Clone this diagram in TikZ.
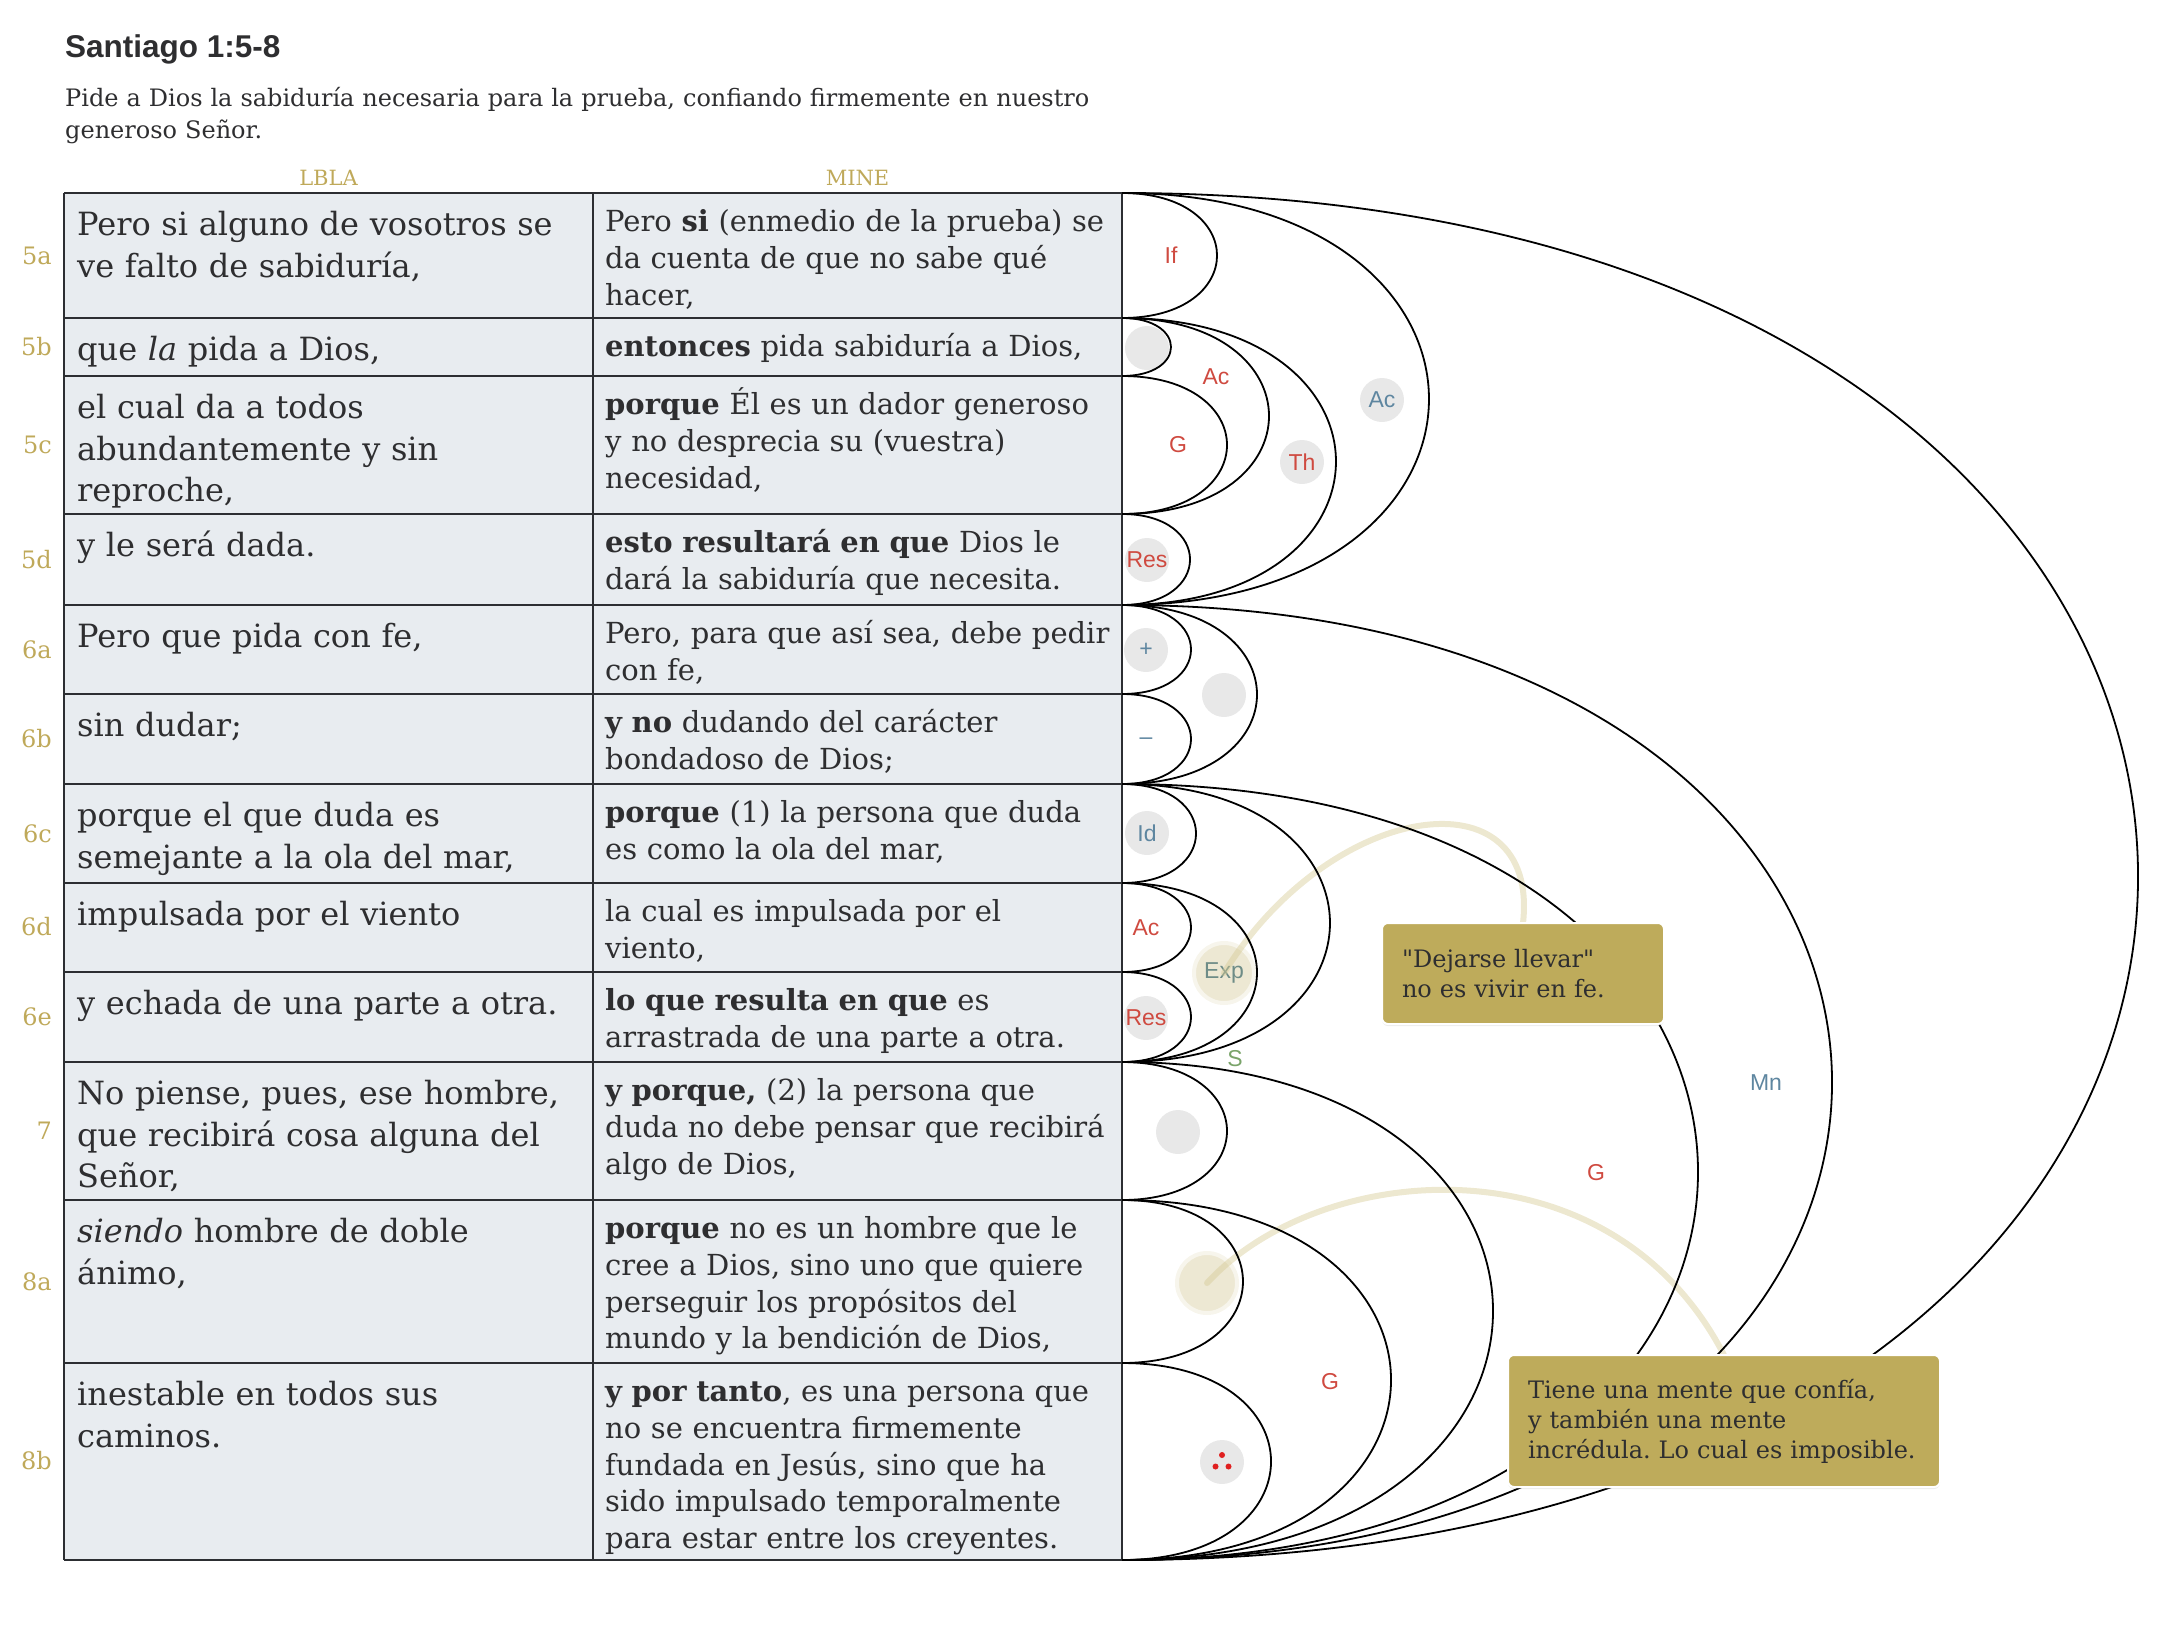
\documentclass[tikz,border=0pt]{standalone}
\usepackage{fontspec}
\setmainfont{DejaVu Serif}
\newfontfamily\etiqfont{Liberation Sans}
\newfontfamily\rectafont{DejaVu Serif}[Ligatures=TeXOff]
\usetikzlibrary{shadows}

\definecolor{oro}{RGB}{191,169,90}
\definecolor{notaoro}{RGB}{190,171,91}
\definecolor{tinta}{RGB}{46,46,48}
\definecolor{celda}{RGB}{232,236,240}
\definecolor{regla}{RGB}{44,46,50}
\definecolor{rojo}{RGB}{207,74,64}
\definecolor{azul}{RGB}{94,134,160}
\definecolor{verde}{RGB}{122,164,106}
\definecolor{gris}{RGB}{232,232,232}
\definecolor{crema}{RGB}{237,232,211}
\definecolor{cremaclaro}{RGB}{247,245,236}
\definecolor{trazo}{RGB}{214,203,150}
\definecolor{expgris}{RGB}{110,140,135}
\definecolor{punto}{RGB}{224,32,32}

\tikzset{
  regla/.style={draw=regla, line width=2.2pt},
  arco/.style={draw=black, line width=1.8pt},
  verso/.style={anchor=east, text=oro, inner sep=0pt, font={\fontsize{24}{28}\selectfont}},
  lbla/.style={anchor=base west, text=tinta, inner sep=0pt, text width=600pt, align=left, font={\fontsize{32}{41.5}\selectfont}},
  mine/.style={anchor=base west, text=tinta, inner sep=0pt, text width=600pt, align=left, font={\fontsize{29}{36.8}\selectfont}},
  lbl/.style={text=#1, inner sep=0pt, font={\etiqfont\fontsize{23}{23}\selectfont}},
  burbuja/.style={circle, fill=gris, minimum size=44pt, inner sep=0pt},
  brillo/.style={circle, fill=crema, draw=cremaclaro, line width=4pt, minimum size=60pt, inner sep=0pt},
  resalte/.style={draw=trazo, draw opacity=0.45, line width=6pt, line cap=round},
  nota/.style={rectangle, rounded corners=6pt, fill=notaoro, draw=white, line width=2pt, text=tinta,
    align=left, inner xsep=20pt, inner ysep=0pt, font={\rectafont\fontsize{24}{30}\selectfont},
    drop shadow={shadow xshift=0pt, shadow yshift=-2pt, opacity=0.15}}
}

\begin{document}
\frenchspacing
\begin{tikzpicture}[x=1pt, y=-1pt]
	\useasboundingbox (0,0) rectangle (2176,1642);
	% encabezado
	\node[anchor=base west, inner sep=0pt, text=tinta, font={\etiqfont\bfseries\fontsize{31.5}{36}\selectfont}] (titulo) at (65,57.5) {Santiago 1:5-8};
	\node[anchor=base west, inner sep=0pt, text=tinta, text width=1200pt, align=left, font={\fontsize{24}{32}\selectfont}] (resumen) at (65,106) {Pide a Dios la sabiduría necesaria para la prueba, confiando firmemente en nuestro\\generoso Señor.};
	\node[anchor=base, inner sep=0pt, text=oro, font={\fontsize{21}{24}\selectfont}] (hlbla) at (328.5,185) {LBLA};
	\node[anchor=base, inner sep=0pt, text=oro, font={\fontsize{21}{24}\selectfont}] (hmine) at (857.5,185) {MINE};

	% bordes de las filas
	\coordinate (a0) at (64,193);    \coordinate (b0) at (1122,193);
	\coordinate (a1) at (64,318);    \coordinate (b1) at (1122,318);
	\coordinate (a2) at (64,376);    \coordinate (b2) at (1122,376);
	\coordinate (a3) at (64,514);    \coordinate (b3) at (1122,514);
	\coordinate (a4) at (64,605);    \coordinate (b4) at (1122,605);
	\coordinate (a5) at (64,694);    \coordinate (b5) at (1122,694);
	\coordinate (a6) at (64,784);    \coordinate (b6) at (1122,784);
	\coordinate (a7) at (64,883);    \coordinate (b7) at (1122,883);
	\coordinate (a8) at (64,972);    \coordinate (b8) at (1122,972);
	\coordinate (a9) at (64,1062);   \coordinate (b9) at (1122,1062);
	\coordinate (a10) at (64,1200);  \coordinate (b10) at (1122,1200);
	\coordinate (a11) at (64,1363);  \coordinate (b11) at (1122,1363);
	\coordinate (a12) at (64,1560);  \coordinate (b12) at (1122,1560);

	\fill[celda] (a0) rectangle (b12);
	\draw[regla] (a0) -- (b0);
	\draw[regla] (a1) -- (b1);
	\draw[regla] (a2) -- (b2);
	\draw[regla] (a3) -- (b3);
	\draw[regla] (a4) -- (b4);
	\draw[regla] (a5) -- (b5);
	\draw[regla] (a6) -- (b6);
	\draw[regla] (a7) -- (b7);
	\draw[regla] (a8) -- (b8);
	\draw[regla] (a9) -- (b9);
	\draw[regla] (a10) -- (b10);
	\draw[regla] (a11) -- (b11);
	\draw[regla] (a12) -- (b12);
	\draw[regla] (a0) -- (a12);
	\draw[regla] (593,193) -- (593,1560);
	\draw[regla] (b0) -- (b12);

	% versículos
	\node[verso] (v5a) at (52,256) {5a};
	\node[verso] (v5b) at (52,347) {5b};
	\node[verso] (v5c) at (52,445) {5c};
	\node[verso] (v5d) at (52,560) {5d};
	\node[verso] (v6a) at (52,650) {6a};
	\node[verso] (v6b) at (52,739) {6b};
	\node[verso] (v6c) at (52,834) {6c};
	\node[verso] (v6d) at (52,927) {6d};
	\node[verso] (v6e) at (52,1017) {6e};
	\node[verso] (v7) at (52,1131) {7};
	\node[verso] (v8a) at (52,1282) {8a};
	\node[verso] (v8b) at (52,1461) {8b};

	% LBLA
	\node[lbla] (l5a) at (77,235.5) {Pero si alguno de vosotros se\\ve falto de sabiduría,};
	\node[lbla] (l5b) at (77,360.5) {que \textit{la} pida a Dios,};
	\node[lbla] (l5c) at (77,418.5) {el cual da a todos\\abundantemente y sin\\reproche,};
	\node[lbla] (l5d) at (77,556.5) {y le será dada.};
	\node[lbla] (l6a) at (77,647.5) {Pero que pida con fe,};
	\node[lbla] (l6b) at (77,736.5) {sin dudar;};
	\node[lbla] (l6c) at (77,826.5) {porque el que duda es\\semejante a la ola del mar,};
	\node[lbla] (l6d) at (77,925.5) {impulsada por el viento};
	\node[lbla] (l6e) at (77,1014.5) {y echada de una parte a otra.};
	\node[lbla] (l7) at (77,1104.5) {No piense, pues, ese hombre,\\que recibirá cosa alguna del\\Señor,};
	\node[lbla] (l8a) at (77,1242.5) {\textit{siendo} hombre de doble\\ánimo,};
	\node[lbla] (l8b) at (77,1405.5) {inestable en todos sus\\caminos.};

	% MINE
	\node[mine] (m5a) at (605,231.5) {Pero \textbf{si} (enmedio de la prueba) se\\da cuenta de que no sabe qué\\hacer,};
	\node[mine] (m5b) at (605,356.5) {\textbf{entonces} pida sabiduría a Dios,};
	\node[mine] (m5c) at (605,414.5) {\textbf{porque} Él es un dador generoso\\y no desprecia su (vuestra)\\necesidad,};
	\node[mine] (m5d) at (605,552.5) {\textbf{esto resultará en que} Dios le\\dará la sabiduría que necesita.};
	\node[mine] (m6a) at (605,643.5) {Pero, para que así sea, debe pedir\\con fe,};
	\node[mine] (m6b) at (605,732.5) {\textbf{y no} dudando del carácter\\bondadoso de Dios;};
	\node[mine] (m6c) at (605,822.5) {\textbf{porque} (1) la persona que duda\\es como la ola del mar,};
	\node[mine] (m6d) at (605,921.5) {la cual es impulsada por el\\viento,};
	\node[mine] (m6e) at (605,1010.5) {\textbf{lo que resulta en que} es\\arrastrada de una parte a otra.};
	\node[mine] (m7) at (605,1100.5) {\textbf{y porque,} (2) la persona que\\duda no debe pensar que recibirá\\algo de Dios,};
	\node[mine] (m8a) at (605,1238.5) {\textbf{porque} no es un hombre que le\\cree a Dios, sino uno que quiere\\perseguir los propósitos del\\mundo y la bendición de Dios,};
	\node[mine] (m8b) at (605,1401.5) {\textbf{y por tanto}, es una persona que\\no se encuentra firmemente\\fundada en Jesús, sino que ha\\sido impulsado temporalmente\\para estar entre los creyentes.};

	% burbujas de las relaciones
	\node[burbuja] (c5b) at (1147,348) {};
	\node[burbuja, lbl=rojo] (th) at (1302,462) {Th};
	\node[burbuja, lbl=azul] (ac5) at (1382,400) {Ac};
	\node[burbuja, lbl=rojo] (res5) at (1147,560) {Res};
	\node[burbuja, lbl=azul] (mas) at (1146,650) {+};
	\node[burbuja] (c6ab) at (1224,695) {};
	\node[burbuja, lbl=azul] (id) at (1147,833) {Id};
	\node[burbuja, lbl=rojo] (res6) at (1146,1018) {Res};
	\node[brillo, lbl=expgris] (exp) at (1224,973) {Exp};
	\node[burbuja] (c7) at (1178,1132) {};
	\node[brillo] (c8a) at (1207,1283) {};
	\node[burbuja] (puntos) at (1222,1462) {};
	\fill[punto] (puntos) ++(0,-7) circle (3);
	\fill[punto] (puntos) ++(-6.5,4.5) circle (3);
	\fill[punto] (puntos) ++(6.5,4.5) circle (3);

	% trazos hacia las notas
	\coordinate (notaAarriba) at (1523,923);
	\coordinate (notaBarriba) at (1724,1355);
	\draw[resalte] (exp.center) .. controls (1330,800) and (1540,770) .. (notaAarriba);
	\draw[resalte] (c8a.center) .. controls (1320,1160) and (1610,1135) .. (notaBarriba);

	% arcos
	\draw[arco] (b0) .. controls +(126.7,0) and +(126.7,0) .. (b1);
	\draw[arco] (b1) .. controls +(65.3,0) and +(65.3,0) .. (b2);
	\draw[arco] (b2) .. controls +(140,0) and +(140,0) .. (b3);
	\draw[arco] (b1) .. controls +(196,0) and +(196,0) .. (b3);
	\draw[arco] (b3) .. controls +(90.7,0) and +(90.7,0) .. (b4);
	\draw[arco] (b1) .. controls +(285.3,0) and +(285.3,0) .. (b4);
	\draw[arco] (b0) .. controls +(409.3,0) and +(409.3,0) .. (b4);
	\draw[arco] (b4) .. controls +(92,0) and +(92,0) .. (b5);
	\draw[arco] (b5) .. controls +(92,0) and +(92,0) .. (b6);
	\draw[arco] (b4) .. controls +(180,0) and +(180,0) .. (b6);
	\draw[arco] (b6) .. controls +(98.7,0) and +(98.7,0) .. (b7);
	\draw[arco] (b7) .. controls +(92,0) and +(92,0) .. (b8);
	\draw[arco] (b8) .. controls +(92,0) and +(92,0) .. (b9);
	\draw[arco] (b7) .. controls +(180,0) and +(180,0) .. (b9);
	\draw[arco] (b6) .. controls +(277.3,0) and +(277.3,0) .. (b9);
	\draw[arco] (b9) .. controls +(140,0) and +(140,0) .. (b10);
	\draw[arco] (b10) .. controls +(161.3,0) and +(161.3,0) .. (b11);
	\draw[arco] (b11) .. controls +(198.7,0) and +(198.7,0) .. (b12);
	\draw[arco] (b10) .. controls +(358.7,0) and +(358.7,0) .. (b12);
	\draw[arco] (b9) .. controls +(494.7,0) and +(494.7,0) .. (b12);
	\draw[arco] (b6) .. controls +(768,0) and +(768,0) .. (b12);
	\draw[arco] (b4) .. controls +(946.7,0) and +(946.7,0) .. (b12);
	\draw[arco] (b0) .. controls +(1354.7,0) and +(1354.7,0) .. (b12);

	% etiquetas sin burbuja
	\node[lbl=rojo] (lif) at (1171,255) {If};
	\node[lbl=rojo] (ac5b) at (1216,377) {Ac};
	\node[lbl=rojo] (g5c) at (1178,445) {G};
	\node[lbl=azul] (menos) at (1146,741) {–};
	\node[lbl=rojo] (ac6d) at (1146,928) {Ac};
	\node[lbl=verde] (s6) at (1235,1059) {S};
	\node[lbl=azul] (mn) at (1766,1083) {Mn};
	\node[lbl=rojo] (g6) at (1596,1173) {G};
	\node[lbl=rojo] (g8) at (1330,1382) {G};

	% notas
	\node[nota, minimum width=282pt, minimum height=101pt, text width=242pt] (notaA) at (1523,973.5) {"Dejarse llevar"\\no es vivir en fe.};
	\node[nota, minimum width=432pt, minimum height=132pt, text width=392pt] (notaB) at (1724,1421) {Tiene una mente que confía,\\y también una mente\\incrédula. Lo cual es imposible.};
\end{tikzpicture}
\end{document}
